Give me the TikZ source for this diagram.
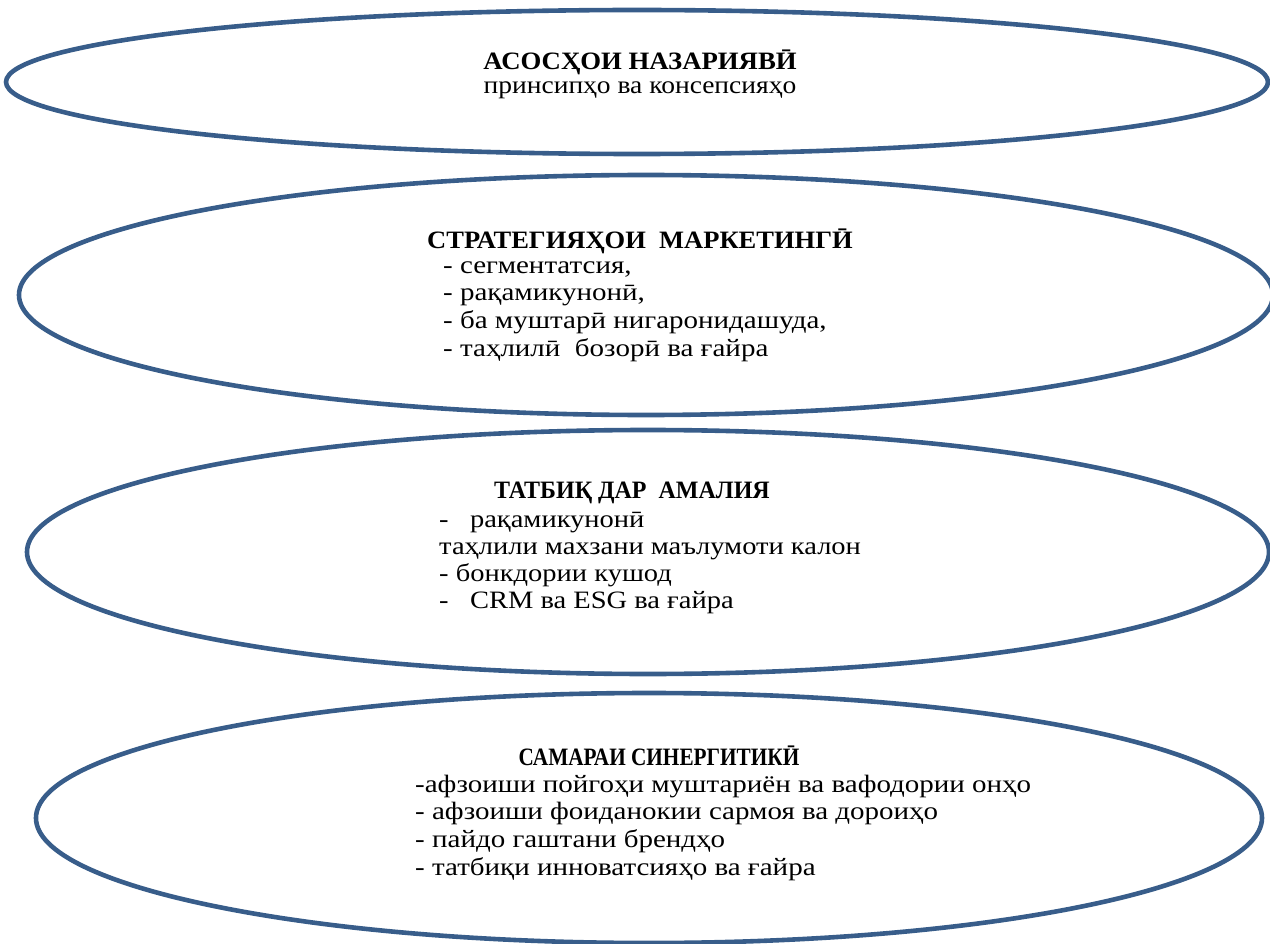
\documentclass[tikz,border=0pt]{standalone}
\usepackage{fontspec}
\setmainfont{Liberation Serif}
\usetikzlibrary{shapes.geometric}
\definecolor{ellc}{HTML}{385D8A}
\tikzset{
  oval/.style={draw=ellc, line width=4.6pt, ellipse, inner sep=0pt, outer sep=0pt},
  ttl/.style={inner sep=0pt, anchor=base, font=\bfseries},
  lin/.style={inner sep=0pt, anchor=base west},
  lnc/.style={inner sep=0pt, anchor=base},
}
\newcommand{\fs}{\fontsize{25}{28}\selectfont}
\newcommand{\bx}[1]{\fs\scalebox{1.16}[1]{#1}}
\newcommand{\bxc}[1]{\fs\scalebox{1.14}[1]{#1}}
\begin{document}
\begin{tikzpicture}[x=1pt,y=-1pt]
\useasboundingbox (0,0) rectangle (1270,944);
% ellipses
\node[oval, minimum width=1262pt, minimum height=144pt] (e1) at (637,82) {};
\node[oval, minimum width=1254pt, minimum height=240pt] (e2) at (646,295) {};
\node[oval, minimum width=1242pt, minimum height=244pt] (e3) at (648,552) {};
\node[oval, minimum width=1226pt, minimum height=250pt] (e4) at (649,818) {};
% ellipse 1
\node[ttl] (t1) at (640,70) {\fs\scalebox{1.07}[1]{АСОСҲОИ НАЗАРИЯВӢ}};
\node[lnc] (t1a) at (640,94) {\fs\scalebox{1.10}[1]{принсипҳо ва консепсияҳо}};
% ellipse 2
\node[ttl] (t2) at (640,249) {\fs\scalebox{1.06}[1]{СТРАТЕГИЯҲОИ\ \ МАРКЕТИНГӢ}};
\node[lin] (t2a) at (443,274) {\bx{- сегментатсия,}};
\node[lin] (t2b) at (443,301) {\bx{- рақамикунонӣ,}};
\node[lin] (t2c) at (443,328) {\bx{- ба муштарӣ нигаронидашуда,}};
\node[lin] (t2d) at (443,356) {\bx{- таҳлилӣ\ \ бозорӣ ва ғайра}};
% ellipse 3
\node[ttl] (t3) at (632,498) {\fs\scalebox{0.96}[1]{ТАТБИҚ ДАР\ \ АМАЛИЯ}};
\node[lin] (t3a) at (439,527) {\bxc{-\hspace{0.75em}рақамикунонӣ}};
\node[lin] (t3b) at (439,554) {\bxc{таҳлили махзани маълумоти калон}};
\node[lin] (t3c) at (439,581) {\bxc{- бонкдории кушод}};
\node[lin] (t3d) at (439,608) {\bxc{-\hspace{0.75em}CRM ва ESG ва ғайра}};
% ellipse 4
\node[ttl] (t4) at (659,765) {\fs\scalebox{0.85}[1]{САМАРАИ СИНЕРГИТИКӢ}};
\node[lin] (t4a) at (415,792) {\bx{-афзоиши пойгоҳи муштариён ва вафодории онҳо}};
\node[lin] (t4b) at (415,819) {\bx{- афзоиши фоиданокии сармоя ва дороиҳо}};
\node[lin] (t4c) at (415,847) {\bx{- пайдо гаштани брендҳо}};
\node[lin] (t4d) at (415,875) {\bx{- татбиқи инноватсияҳо ва ғайра}};
\end{tikzpicture}
\end{document}
